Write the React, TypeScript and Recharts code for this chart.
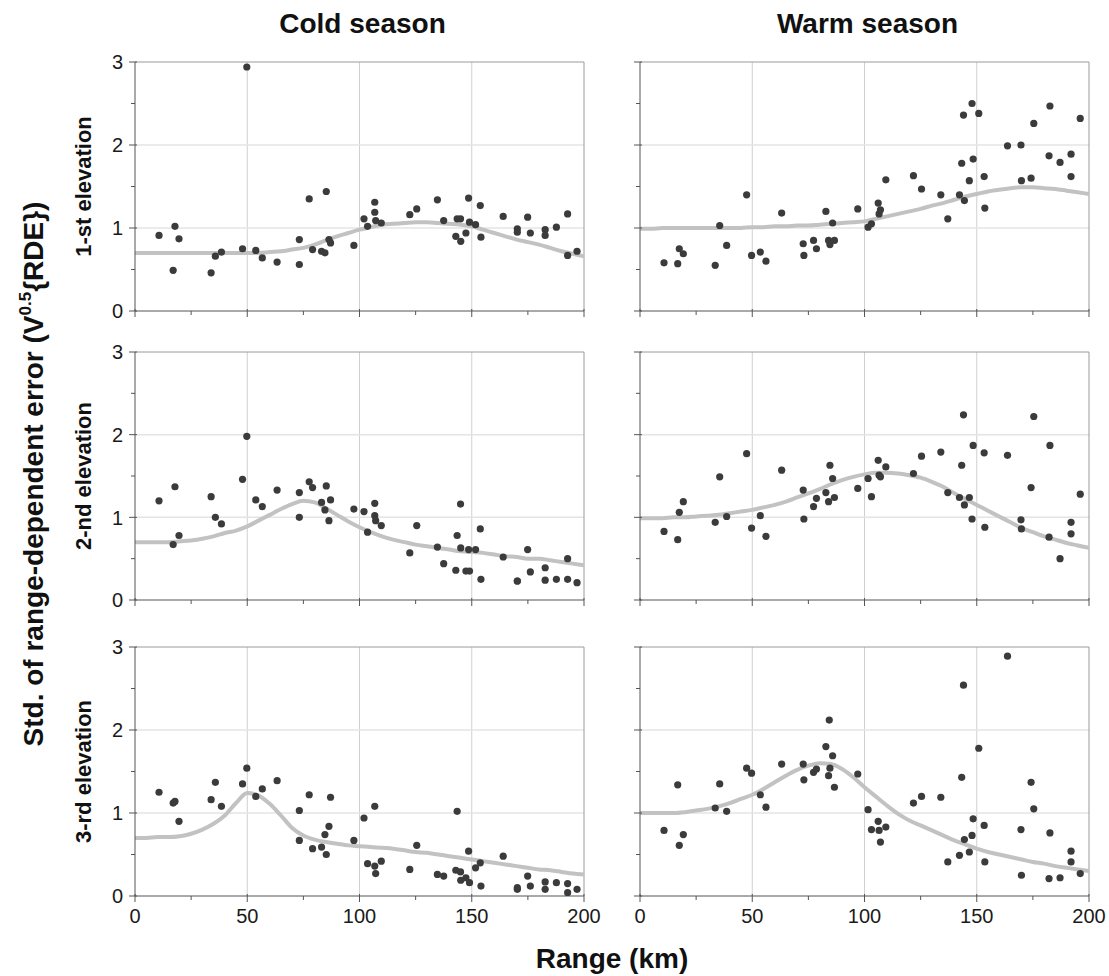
import { ComposedChart, Scatter, Line, XAxis, YAxis, ReferenceLine } from 'recharts'

document.body.style.margin = '0'

const FONT = '"Liberation Sans", Arial, sans-serif'

// radar range (km) and std of range-dependent error, read per panel
const cold1Range = [10.7, 17.0, 17.8, 19.6, 33.9, 35.8, 38.5, 47.9, 49.8, 53.8, 56.7, 63.3, 73.2, 73.2, 77.6, 79.1, 83.1, 84.6, 85.2, 86.4, 87.1, 97.5, 102.0, 103.6, 106.8, 106.8, 107.2, 109.7, 122.4, 125.5, 134.7, 137.5, 142.9, 143.5, 145.0, 145.1, 147.4, 148.6, 149.0, 151.7, 153.8, 154.1, 164.0, 170.3, 170.3, 174.9, 176.1, 182.7, 182.7, 187.7, 192.7, 192.7, 196.9]
const cold1Std = [0.91, 0.49, 1.02, 0.87, 0.46, 0.66, 0.71, 0.75, 2.94, 0.73, 0.64, 0.59, 0.86, 0.56, 1.35, 0.74, 0.72, 0.70, 1.44, 0.86, 0.82, 0.79, 1.11, 1.02, 1.31, 1.19, 1.09, 1.06, 1.16, 1.23, 1.34, 1.09, 0.90, 1.11, 1.11, 0.84, 0.94, 1.36, 1.07, 1.04, 1.27, 0.89, 1.14, 0.99, 0.95, 1.13, 0.94, 0.98, 0.91, 1.01, 1.17, 0.67, 0.72]

const cold2Range = [10.7, 17.0, 17.8, 19.6, 33.9, 35.8, 38.5, 47.9, 49.8, 53.8, 56.7, 63.3, 73.2, 73.2, 77.6, 79.1, 83.1, 84.6, 85.2, 86.4, 87.1, 97.5, 102.0, 103.6, 106.8, 106.8, 107.2, 109.7, 122.4, 125.5, 134.7, 137.5, 142.9, 143.5, 145.0, 145.1, 147.4, 148.6, 149.0, 151.7, 153.8, 154.1, 164.0, 170.3, 170.3, 174.9, 176.1, 182.7, 182.7, 187.7, 192.7, 192.7, 196.9]
const cold2Std = [1.20, 0.67, 1.37, 0.78, 1.25, 1.00, 0.92, 1.46, 1.98, 1.21, 1.13, 1.33, 1.30, 1.00, 1.43, 1.36, 1.18, 1.09, 1.38, 0.96, 1.21, 1.10, 1.07, 0.82, 1.17, 1.02, 0.96, 0.90, 0.57, 0.90, 0.64, 0.44, 0.36, 0.78, 1.16, 0.63, 0.35, 0.61, 0.35, 0.61, 0.86, 0.25, 0.52, 0.23, 0.23, 0.61, 0.34, 0.39, 0.24, 0.25, 0.50, 0.25, 0.21]

const cold3Range = [10.7, 17.0, 17.8, 19.6, 33.9, 35.8, 38.5, 47.9, 49.8, 53.8, 56.7, 63.3, 73.2, 73.2, 77.6, 79.1, 83.1, 84.6, 85.2, 86.4, 87.1, 97.5, 102.0, 103.6, 106.8, 106.8, 107.2, 109.7, 122.4, 125.5, 134.7, 137.5, 142.9, 143.5, 145.0, 145.1, 147.4, 148.6, 149.0, 151.7, 153.8, 154.1, 164.0, 170.3, 170.3, 174.9, 176.1, 182.7, 182.7, 187.7, 192.7, 192.7, 196.9]
const cold3Std = [1.25, 1.12, 1.14, 0.90, 1.16, 1.37, 1.08, 1.35, 1.54, 1.20, 1.29, 1.39, 1.03, 0.67, 1.22, 0.57, 0.59, 0.74, 0.50, 0.84, 1.19, 0.67, 0.94, 0.39, 1.08, 0.36, 0.27, 0.42, 0.32, 0.61, 0.26, 0.24, 0.31, 1.02, 0.29, 0.19, 0.22, 0.54, 0.16, 0.34, 0.40, 0.12, 0.48, 0.08, 0.10, 0.24, 0.12, 0.17, 0.08, 0.16, 0.15, 0.04, 0.08]

const warm1Range = [10.7, 16.8, 17.5, 19.3, 33.5, 35.5, 38.6, 47.5, 49.7, 53.6, 56.1, 63.1, 72.7, 73.0, 77.3, 78.6, 82.8, 84.0, 84.6, 85.8, 86.6, 97.0, 101.6, 103.1, 106.1, 106.5, 107.1, 109.5, 121.8, 125.4, 134.0, 137.1, 142.3, 143.3, 144.1, 144.5, 146.7, 147.9, 148.4, 150.9, 153.3, 153.6, 163.7, 169.7, 169.9, 174.2, 175.4, 182.2, 182.6, 187.1, 192.0, 192.0, 196.1]
const warm1Std = [0.58, 0.57, 0.75, 0.69, 0.55, 1.03, 0.79, 1.40, 0.67, 0.71, 0.60, 1.18, 0.81, 0.67, 0.85, 0.75, 1.20, 0.85, 0.80, 1.06, 0.85, 1.23, 1.01, 1.05, 1.30, 1.17, 1.22, 1.58, 1.63, 1.47, 1.40, 1.11, 1.40, 1.78, 2.36, 1.33, 1.57, 2.50, 1.83, 2.38, 1.62, 1.24, 1.99, 2.00, 1.57, 1.60, 2.26, 1.87, 2.47, 1.79, 1.89, 1.62, 2.32]

const warm2Range = [10.7, 16.8, 17.5, 19.3, 33.5, 35.5, 38.6, 47.5, 49.7, 53.6, 56.1, 63.1, 72.7, 73.0, 77.3, 78.6, 82.8, 84.0, 84.6, 85.8, 86.6, 97.0, 101.6, 103.1, 106.1, 106.5, 107.1, 109.5, 121.8, 125.4, 134.0, 137.1, 142.3, 143.3, 144.1, 144.5, 146.7, 147.9, 148.4, 153.3, 153.6, 163.7, 169.7, 169.9, 174.2, 175.4, 182.2, 182.6, 187.1, 192.0, 192.0, 196.1]
const warm2Std = [0.83, 0.73, 1.06, 1.19, 0.94, 1.49, 1.01, 1.77, 0.87, 1.02, 0.77, 1.57, 1.33, 0.98, 1.13, 1.23, 1.30, 1.19, 1.63, 1.47, 1.24, 1.35, 1.47, 1.25, 1.69, 1.51, 1.49, 1.61, 1.53, 1.74, 1.79, 1.30, 1.24, 1.63, 2.24, 1.15, 1.24, 0.98, 1.87, 1.78, 0.88, 1.75, 0.97, 0.86, 1.36, 2.22, 0.76, 1.87, 0.50, 0.94, 0.80, 1.28]

const warm3Range = [10.7, 16.8, 17.5, 19.3, 33.5, 35.5, 38.6, 47.5, 49.7, 53.6, 56.1, 63.1, 72.7, 73.0, 77.3, 78.6, 82.8, 84.0, 84.3, 84.6, 85.8, 86.6, 97.0, 101.6, 103.1, 106.1, 106.5, 107.1, 109.5, 121.8, 125.4, 134.0, 137.1, 142.3, 143.3, 144.1, 144.5, 146.7, 147.9, 148.4, 150.9, 153.3, 153.6, 163.7, 169.7, 169.9, 174.2, 175.4, 182.2, 182.6, 187.1, 192.0, 192.0, 196.1]
const warm3Std = [0.79, 1.34, 0.61, 0.74, 1.06, 1.35, 1.02, 1.54, 1.48, 1.22, 1.07, 1.59, 1.59, 1.40, 1.49, 1.53, 1.80, 1.45, 2.12, 1.54, 1.69, 1.31, 1.47, 1.04, 0.80, 0.90, 0.79, 0.65, 0.83, 1.12, 1.20, 1.19, 0.41, 0.49, 1.43, 2.54, 0.68, 0.53, 0.73, 0.93, 1.78, 0.85, 0.41, 2.89, 0.80, 0.25, 1.37, 1.05, 0.21, 0.76, 0.22, 0.54, 0.41, 0.27]

// fitted curves, read every 5 km
const fitRange = [0, 5, 10, 15, 20, 25, 30, 35, 40, 45, 50, 55, 60, 65, 70, 75, 80, 85, 90, 95, 100, 105, 110, 115, 120, 125, 130, 135, 140, 145, 150, 155, 160, 165, 170, 175, 180, 185, 190, 195, 200]
const cold1Fit = [0.70, 0.70, 0.70, 0.70, 0.70, 0.70, 0.70, 0.70, 0.70, 0.70, 0.70, 0.70, 0.71, 0.72, 0.74, 0.76, 0.80, 0.85, 0.90, 0.94, 0.98, 1.01, 1.04, 1.05, 1.06, 1.07, 1.07, 1.06, 1.05, 1.04, 1.02, 0.98, 0.94, 0.90, 0.86, 0.83, 0.80, 0.76, 0.72, 0.69, 0.66]
const cold2Fit = [0.70, 0.70, 0.70, 0.70, 0.71, 0.72, 0.74, 0.77, 0.81, 0.84, 0.89, 0.96, 1.03, 1.10, 1.16, 1.20, 1.18, 1.11, 1.03, 0.95, 0.88, 0.82, 0.77, 0.73, 0.70, 0.67, 0.65, 0.63, 0.61, 0.59, 0.58, 0.57, 0.55, 0.53, 0.52, 0.50, 0.50, 0.48, 0.46, 0.44, 0.42]
const cold3Fit = [0.70, 0.70, 0.71, 0.71, 0.72, 0.75, 0.80, 0.87, 0.97, 1.12, 1.24, 1.21, 1.11, 0.97, 0.82, 0.73, 0.68, 0.65, 0.63, 0.61, 0.60, 0.59, 0.58, 0.57, 0.55, 0.53, 0.52, 0.50, 0.48, 0.46, 0.44, 0.42, 0.40, 0.38, 0.36, 0.34, 0.32, 0.31, 0.29, 0.27, 0.26]
const warm1Fit = [0.99, 0.99, 1.00, 1.00, 1.00, 1.00, 1.00, 1.00, 1.00, 1.00, 1.01, 1.01, 1.02, 1.02, 1.03, 1.03, 1.04, 1.05, 1.06, 1.07, 1.08, 1.11, 1.14, 1.17, 1.20, 1.23, 1.27, 1.30, 1.34, 1.38, 1.41, 1.44, 1.46, 1.48, 1.49, 1.49, 1.48, 1.47, 1.45, 1.43, 1.41]
const warm2Fit = [0.99, 0.99, 0.99, 1.00, 1.00, 1.01, 1.02, 1.03, 1.05, 1.07, 1.09, 1.12, 1.15, 1.19, 1.24, 1.29, 1.34, 1.40, 1.45, 1.49, 1.52, 1.54, 1.54, 1.53, 1.51, 1.48, 1.43, 1.37, 1.29, 1.22, 1.15, 1.08, 1.01, 0.94, 0.87, 0.82, 0.77, 0.73, 0.69, 0.66, 0.63]
const warm3Fit = [1.00, 1.00, 1.00, 1.00, 1.01, 1.03, 1.05, 1.08, 1.12, 1.17, 1.22, 1.29, 1.37, 1.45, 1.52, 1.57, 1.60, 1.59, 1.53, 1.43, 1.31, 1.20, 1.09, 0.99, 0.91, 0.85, 0.79, 0.73, 0.67, 0.62, 0.57, 0.53, 0.50, 0.47, 0.44, 0.41, 0.39, 0.36, 0.34, 0.32, 0.30]

const xTicks = [0, 25, 50, 75, 100, 125, 150, 175, 200]
const yTicks = [0, 0.5, 1, 1.5, 2, 2.5, 3]
const rowLabels = ['1-st elevation', '2-nd elevation', '3-rd elevation']
const seasonLabels = ['Cold season', 'Warm season']

const COL_LEFT = [135, 640]
const ROW_TOP = [62, 352, 647]
const ROW_H = [249, 248, 249]
const PLOT_W = 449
const AXIS_W = 60

const zip = (xs: number[], ys: number[]) => xs.map((x, i) => ({ x, y: ys[i] }))

const Dot = (p: any) => <circle cx={p.cx} cy={p.cy} r={3.6} fill="#3b3b3b" />

function makeYTick(showLabel: boolean) {
  return (p: any) => {
    const v = p.payload.value
    const major = Number.isInteger(v)
    return (
      <g>
        <line x1={p.x - (major ? 6 : 4)} x2={major ? p.x + 2 : p.x} y1={p.y} y2={p.y} stroke="#555" />
        {showLabel && major && (
          <text x={p.x - 12} y={p.y} dy="0.36em" textAnchor="end" fontSize={20} fontFamily={FONT} fill="#1a1a1a">
            {v}
          </text>
        )}
      </g>
    )
  }
}

function makeXTick(showLabel: boolean) {
  return (p: any) => {
    const v = p.payload.value
    const major = v % 50 === 0
    return (
      <g>
        <line x1={p.x} x2={p.x} y1={major ? p.y - 2 : p.y} y2={p.y + (major ? 6 : 4)} stroke="#555" />
        {showLabel && major && (
          <text x={p.x} y={p.y + 27} textAnchor="middle" fontSize={20} fontFamily={FONT} fill="#1a1a1a">
            {v}
          </text>
        )}
      </g>
    )
  }
}

interface PanelProps {
  row: number
  col: number
  points: { x: number; y: number }[]
  fit: { x: number; y: number }[]
}

function Panel({ row, col, points, fit }: PanelProps) {
  const h = ROW_H[row]
  return (
    <div style={{ position: 'absolute', left: COL_LEFT[col] - AXIS_W, top: ROW_TOP[row] - 10 }}>
      <ComposedChart width={AXIS_W + PLOT_W + 20} height={h + 50} margin={{ top: 10, right: 20, bottom: 0, left: 0 }}>
        <XAxis
          type="number"
          dataKey="x"
          domain={[0, 200]}
          ticks={xTicks}
          interval={0}
          height={40}
          tickSize={0}
          tickMargin={0}
          tickLine={false}
          axisLine={{ stroke: '#555' }}
          tick={makeXTick(row === 2)}
          allowDataOverflow
        />
        <YAxis
          type="number"
          dataKey="y"
          domain={[0, 3]}
          ticks={yTicks}
          interval={0}
          width={AXIS_W}
          tickSize={0}
          tickMargin={0}
          tickLine={false}
          axisLine={{ stroke: '#555' }}
          tick={makeYTick(col === 0)}
          allowDataOverflow
        />
        {[50, 100, 150].map((v) => (
          <ReferenceLine key={'v' + v} x={v} stroke="#d0d0d0" strokeWidth={1} />
        ))}
        {[1, 2].map((v) => (
          <ReferenceLine key={'h' + v} y={v} stroke="#e4e4e4" strokeWidth={1.5} />
        ))}
        <ReferenceLine x={200} stroke="#9a9a9a" />
        <ReferenceLine y={3} stroke="#9a9a9a" />
        <Line data={fit} dataKey="y" type="monotone" stroke="#c2c2c2" strokeWidth={4} dot={false} isAnimationActive={false} />
        <Scatter data={points} dataKey="y" shape={Dot} isAnimationActive={false} />
      </ComposedChart>
    </div>
  )
}

const panels = [
  { row: 0, col: 0, points: zip(cold1Range, cold1Std), fit: zip(fitRange, cold1Fit) },
  { row: 0, col: 1, points: zip(warm1Range, warm1Std), fit: zip(fitRange, warm1Fit) },
  { row: 1, col: 0, points: zip(cold2Range, cold2Std), fit: zip(fitRange, cold2Fit) },
  { row: 1, col: 1, points: zip(warm2Range, warm2Std), fit: zip(fitRange, warm2Fit) },
  { row: 2, col: 0, points: zip(cold3Range, cold3Std), fit: zip(fitRange, cold3Fit) },
  { row: 2, col: 1, points: zip(warm3Range, warm3Std), fit: zip(fitRange, warm3Fit) },
]

export default function App() {
  return (
    <div style={{ position: 'relative', width: 1109, height: 976, background: '#fff', fontFamily: FONT }}>
      <svg width={1109} height={976} style={{ position: 'absolute', left: 0, top: 0 }}>
        {seasonLabels.map((s, i) => (
          <text key={s} x={COL_LEFT[i] + PLOT_W / 2 + 3} y={33} textAnchor="middle" fontSize={28} fontWeight="bold" fill="#111">
            {s}
          </text>
        ))}
        {rowLabels.map((s, i) => {
          const cy = ROW_TOP[i] + ROW_H[i] / 2
          return (
            <text key={s} x={91} y={cy} transform={`rotate(-90 91 ${cy})`} textAnchor="middle" fontSize={22} fontWeight="bold" fill="#111">
              {s}
            </text>
          )
        })}
        <text x={43} y={474} transform="rotate(-90 43 474)" textAnchor="middle" fontSize={28} fontWeight="bold" fill="#111">
          Std. of range-dependent error (V
          <tspan dy={-12} fontSize={17}>0.5</tspan>
          <tspan dy={12}>{'{RDE})'}</tspan>
        </text>
        <text x={612} y={968} textAnchor="middle" fontSize={28} fontWeight="bold" fill="#111">
          Range (km)
        </text>
      </svg>
      {panels.map((p) => (
        <Panel key={`${p.row}-${p.col}`} {...p} />
      ))}
    </div>
  )
}
